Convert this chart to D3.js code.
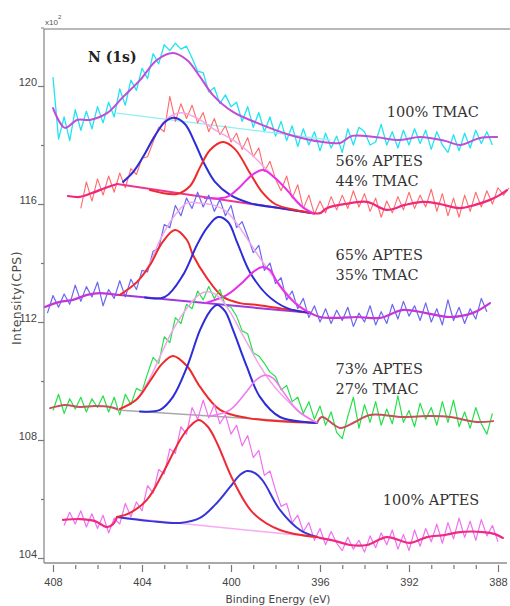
<!DOCTYPE html>
<html><head><meta charset="utf-8">
<script src="https://cdn.jsdelivr.net/npm/d3@7"></script>
<style>body{margin:0;background:#fff}svg{display:block}</style>
</head><body>
<svg id="c" width="510" height="606"></svg>
<script>
// ---------- DATA ----------
const xTicks = [408,404,400,396,392,388];
const xMinorTicks = [407,406,405,403,402,401,399,398,397,395,394,393,391,390,389];
const yTicks = [120,116,112,108,104];
const yMinorTicks = [118,114,110,106];

const energy = [408.25,408,407.75,407.5,407.25,407,406.75,406.5,406.25,406,405.75,405.5,405.25,405,404.75,404.5,404.25,404,403.75,403.5,403.25,403,402.75,402.5,402.25,402,401.75,401.5,401.25,401,400.75,400.5,400.25,400,399.75,399.5,399.25,399,398.75,398.5,398.25,398,397.75,397.5,397.25,397,396.75,396.5,396.25,396,395.75,395.5,395.25,395,394.75,394.5,394.25,394,393.75,393.5,393.25,393,392.75,392.5,392.25,392,391.75,391.5,391.25,391,390.75,390.5,390.25,390,389.75,389.5,389.25,389,388.75,388.5,388.25,388,387.75,387.5];

const rawTMAC100 = [null,
 120.30,118.2,118.95,118.15,119.2,118.5,119.15,118.55,119.3,118.75,
 119.45,118.95,119.9,119.35,120.2,119.85,120.6,120.25,121.1,120.75,
 121.4,121.2,121.45,121.25,121.35,120.95,120.5,120.45,119.8,119.95,
 119.4,119.7,119.3,119.45,118.8,119.3,118.6,119.1,118.45,118.95,
 118.3,118.8,118.15,118.65,117.95,118.55,118.0,118.45,117.8,118.4,
 117.9,118.3,117.75,118.55,118.0,118.6,118.45,118.0,118.1,118.7,
 118.0,118.45,117.9,118.5,118.0,118.55,118.05,118.5,117.85,118.45,
 118.0,117.75,118.35,117.8,118.4,117.9,118.5,118.05,118.45,118.0,
 null,null,null];

const rawAPTES56 = [null,null,null,null,null,null,
 115.85,116.75,116.1,116.85,116.3,116.95,116.4,117.05,116.55,117.2,
 117.0,117.55,117.6,118.1,118.6,118.45,119.65,118.8,119.4,118.9,
 119.35,118.75,119.1,118.45,118.9,118.35,118.65,118.1,118.4,117.85,
 118.25,117.6,117.9,117.1,117.45,116.85,116.45,116.95,116.2,116.65,
 115.85,116.3,115.65,116.1,115.7,116.25,115.8,116.3,115.85,116.45,
 115.9,116.35,115.75,116.2,115.55,116.1,115.7,116.25,115.8,116.4,
 115.85,116.3,115.9,116.5,115.75,116.35,115.6,116.2,115.55,116.3,
 115.75,116.4,115.9,116.45,116.0,116.55,116.3,116.55];

const rawAPTES65 = [
 112.3,112.9,112.5,112.95,112.6,113.25,112.7,113.2,112.85,113.35,
 112.55,113.1,112.8,113.4,112.85,113.45,113.1,113.75,113.7,114.4,
 114.5,115.3,115.2,115.95,115.6,116.2,115.85,116.4,115.9,116.3,
 115.75,116.15,115.6,115.95,115.2,115.4,114.9,114.35,114.6,113.75,
 114.0,113.3,113.5,112.75,113.05,112.45,112.8,112.15,112.55,112.0,
 112.45,111.95,112.4,112.05,112.5,111.85,112.3,112.0,112.55,111.9,
 112.35,111.95,112.6,112.1,112.7,112.2,112.55,112.05,112.65,112.0,
 112.45,111.9,112.75,112.05,112.5,111.95,112.45,112.1,112.8,112.35,
 null,null,null,null];

const rawAPTES73 = [null,
 109.0,109.55,108.9,109.4,109.05,109.45,108.95,109.4,109.1,109.5,
 108.95,109.45,108.85,109.55,109.2,109.75,109.65,110.25,110.8,110.6,
 111.5,111.3,112.15,111.95,112.6,112.45,113.05,112.75,113.2,112.8,
 113.1,112.55,112.5,112.2,111.7,111.6,110.95,110.85,110.6,110.3,
 110.15,109.7,109.85,109.3,109.45,108.9,109.3,108.7,109.15,108.5,
 108.95,108.25,108.05,108.8,109.45,108.4,109.2,108.6,109.3,108.5,
 109.05,108.55,109.5,108.6,109.0,108.45,109.25,108.7,109.1,108.5,
 109.3,108.6,109.35,108.45,108.95,108.4,109.1,108.55,108.2,108.9,
 null,null,null];

const rawAPTES100 = [null,null,null,
 105.1,105.55,105.15,105.6,105.05,105.5,105.0,105.45,104.85,105.35,
 105.15,105.85,105.4,105.9,105.6,106.45,106.2,107.0,106.85,107.7,
 107.55,108.45,108.2,109.1,108.7,109.35,108.75,109.2,108.55,108.85,
 108.2,108.5,107.8,108.15,107.4,107.65,106.8,106.95,106.3,105.75,
 105.85,105.2,105.45,104.9,105.2,104.6,105.0,104.45,104.9,104.5,
 104.25,104.7,104.3,104.6,104.2,104.75,104.35,104.85,104.45,104.95,
 104.3,104.8,104.25,104.95,104.4,105.0,104.55,105.15,104.5,105.2,
 104.65,105.35,104.7,105.25,104.6,105.3,104.75,105.1,104.55,
 null,null];

// fitted / smoothed curves: [binding energy, intensity]
const fitTMAC100 = [[408.0,119.25],[407.46,118.58],[406.92,118.85],[406.34,118.85],[405.57,119.08],[404.85,119.63],[404.09,120.20],[403.33,120.88],[402.61,121.12],[401.98,120.88],[401.39,120.31],[400.81,119.69],[399.91,119.12],[398.83,118.75],[397.35,118.34],[395.87,118.10],[395.10,118.07],[394.56,118.31],[393.53,118.27],[392.40,118.17],[391.51,118.27],[390.38,118.14],[389.71,118.0],[388.81,118.24],[388.04,118.27]];
const bgTMAC100 = [[405.12,119.08],[395.55,118.17]];

const smoothL56 = [[407.33,116.27],[406.79,116.24],[406.25,116.37],[405.66,116.54],[405.12,116.68]];
const bg56 = [[405.12,116.68],[396.31,115.69]];
const smoothR56 = [[396.31,115.69],[396.0,115.69],[395.69,115.86],[394.88,116.0],[393.89,116.07],[392.99,115.80],[392.18,115.97],[391.37,116.07],[390.61,116.0],[389.71,115.86],[389.03,115.97],[388.36,116.14],[387.91,116.31],[387.60,116.47]];
const env56 = [[404.85,116.75],[404.09,117.42],[403.42,118.33],[402.97,118.83],[402.52,119.05],[402.07,119.08],[401.39,118.85],[400.72,118.51],[399.91,118.17],[399.15,117.73],[398.38,117.15],[397.80,116.71],[397.35,116.37],[396.90,116.00],[396.31,115.69]];
const peakA56 = [[404.85,116.75],[404.40,117.08],[403.96,117.59],[403.42,118.31],[402.97,118.78],[402.56,118.92],[402.07,118.71],[401.62,118.07],[401.17,117.32],[400.72,116.75],[400.04,116.31],[399.15,116.03],[397.80,115.86],[396.31,115.69]];
const peakB56 = [[403.64,116.47],[402.43,116.34],[401.84,116.61],[401.39,117.25],[400.94,117.83],[400.36,118.10],[399.82,117.86],[399.15,117.05],[398.61,116.41],[398.02,116.00],[397.12,115.80],[396.31,115.69]];
const peakC56 = [[401.17,116.20],[400.18,116.24],[399.60,116.58],[399.06,116.98],[398.56,117.15],[398.02,116.88],[397.48,116.47],[397.03,116.07],[396.67,115.83],[396.31,115.69]];

const smoothL65 = [[408.36,112.51],[407.69,112.68],[407.10,112.75],[406.47,112.92],[405.89,112.98],[405.12,112.92]];
const bg65 = [[405.12,112.92],[396.45,112.31]];
const env65 = [[404.99,112.92],[404.22,113.36],[403.64,114.0],[403.19,114.78],[402.61,115.53],[401.98,116.03],[401.39,116.03],[400.81,115.97],[400.18,115.73],[399.60,115.19],[399.15,114.68],[398.70,114.17],[398.25,113.69],[397.80,113.25],[397.12,112.68],[396.45,112.31]];
const peakA65 = [[404.99,112.92],[404.22,113.36],[403.64,113.93],[403.10,114.68],[402.52,115.12],[401.98,114.78],[401.71,114.27],[401.08,113.49],[400.36,112.85],[399.60,112.64],[398.83,112.58],[396.45,112.31]];
const peakB65 = [[403.87,112.83],[402.97,112.85],[402.16,113.59],[401.53,114.61],[401.08,115.19],[400.58,115.56],[400.13,115.39],[399.73,114.71],[399.15,113.69],[398.38,112.92],[397.48,112.47],[396.45,112.31]];
const peakC65 = [[401.17,112.64],[400.18,112.92],[399.46,113.36],[399.01,113.69],[398.61,113.86],[398.25,113.76],[397.93,113.36],[397.35,112.81],[396.90,112.51],[396.45,112.31]];
const smoothR65 = [[396.45,112.31],[396.0,112.17],[395.10,112.14],[394.34,112.17],[393.30,112.14],[392.27,112.41],[391.28,112.31],[390.16,112.17],[389.12,112.31],[388.36,112.64]];

const smoothL73 = [[408.13,109.08],[407.46,109.19],[406.79,109.12],[406.11,109.15],[405.44,109.12],[405.12,109.05]];
const bg73 = [[405.12,109.02],[396.13,108.58]];
const env73 = [[404.22,109.39],[403.64,110.10],[403.10,110.98],[402.61,111.73],[401.98,112.47],[401.39,112.95],[400.94,113.02],[400.49,112.81],[400.04,112.34],[399.60,111.73],[399.15,111.12],[398.70,110.51],[398.25,110.0],[397.80,109.59],[397.35,109.25],[396.90,108.92],[396.13,108.58]];
const peakA73 = [[404.99,109.05],[404.22,109.39],[403.64,110.0],[403.10,110.58],[402.61,110.85],[401.98,110.51],[401.39,109.80],[400.49,109.02],[399.28,108.75],[396.13,108.58]];
const peakB73 = [[404.09,108.97],[403.19,109.02],[402.61,109.46],[401.98,110.47],[401.39,111.73],[400.94,112.37],[400.63,112.58],[400.27,112.37],[399.91,111.73],[399.28,110.47],[398.70,109.46],[397.80,108.78],[396.13,108.58]];
const peakC73 = [[400.94,108.81],[400.04,109.02],[399.28,109.66],[398.88,110.03],[398.47,110.20],[398.11,110.10],[397.80,109.80],[397.03,109.02],[396.13,108.58]];
const smoothR73 = [[396.13,108.58],[395.91,108.78],[395.10,108.41],[394.43,108.61],[393.75,108.85],[392.27,108.78],[391.06,108.81],[390.16,108.78],[388.94,108.61],[388.22,108.64]];

const smoothL100 = [[407.55,105.29],[406.79,105.32],[406.11,105.25],[405.57,105.05],[405.30,105.15],[405.12,105.39]];
const bg100 = [[405.12,105.39],[396.13,104.71]];
const peakA100 = [[405.12,105.39],[404.54,105.53],[403.78,105.97],[403.06,106.88],[402.29,108.00],[401.84,108.47],[401.44,108.68],[401.03,108.44],[400.63,107.90],[399.91,106.64],[399.01,105.53],[397.80,104.95],[396.13,104.71]];
const peakB100 = [[405.12,105.39],[403.64,105.25],[402.29,105.19],[401.39,105.36],[400.72,105.80],[400.04,106.41],[399.60,106.81],[399.28,106.95],[398.92,106.88],[398.56,106.61],[397.80,105.63],[396.90,104.95],[396.13,104.71]];
const smoothR100 = [[396.13,104.71],[396.0,104.68],[395.33,104.58],[394.65,104.44],[393.89,104.44],[392.99,104.71],[391.96,104.51],[391.19,104.71],[390.38,104.78],[389.71,104.88],[388.67,104.88],[388.13,104.81],[387.78,104.68]];

const sampleLabels = [
  {lines:["100% TMAC"], e:393.0, v:118.95},
  {lines:["56% APTES","44% TMAC"], e:395.3, v:117.3},
  {lines:["65% APTES","35% TMAC"], e:395.3, v:114.1},
  {lines:["73% APTES","27% TMAC"], e:395.3, v:110.25},
  {lines:["100% APTES"], e:393.18, v:105.8}
];

// ---------- DRAWING ----------
const svg = d3.select("#c");
const x = d3.scaleLinear().domain([408,388]).range([53,498]);
const y = d3.scaleLinear().domain([120,104]).range([86,558]);
const axisColor = "#8c8c8c";

function rawPath(arr,color,w){
  const pts = arr.map((v,i)=>[energy[i],v]).filter(p=>p[1]!=null);
  svg.append("path").attr("fill","none").attr("stroke",color).attr("stroke-width",w)
    .attr("stroke-linejoin","round")
    .attr("d", d3.line().x(p=>x(p[0])).y(p=>y(p[1]))(pts));
}
const smooth = d3.line().x(p=>x(p[0])).y(p=>y(p[1])).curve(d3.curveCatmullRom.alpha(0.5));
const straight = d3.line().x(p=>x(p[0])).y(p=>y(p[1]));
function curve(pts,color,w,gen){
  svg.append("path").attr("fill","none").attr("stroke",color).attr("stroke-width",w)
    .attr("stroke-linecap","round").attr("d",(gen||smooth)(pts));
}

// frame
svg.append("line").attr("x1",44).attr("x2",510).attr("y1",29).attr("y2",29).attr("stroke","#a0a0a0").attr("stroke-width",1.5);
svg.append("line").attr("x1",44).attr("x2",44).attr("y1",29).attr("y2",563).attr("stroke",axisColor).attr("stroke-width",1.3);
svg.append("line").attr("x1",44).attr("x2",507).attr("y1",563).attr("y2",563).attr("stroke",axisColor).attr("stroke-width",1.3);

// spectrum 1: 100% TMAC
rawPath(rawTMAC100,"#20e4f2",1.3);
curve(bgTMAC100,"#8ef0f2",1.3,straight);
curve(fitTMAC100,"#c24bd8",2);

// spectrum 2: 56/44
rawPath(rawAPTES56,"#ff6a6a",1.1);
curve(env56,"#f3a8e6",1.5);
curve(bg56,"#ef3590",2,straight);
curve(smoothL56,"#f0287a",2.2);
curve(smoothR56,"#f0287a",2.2);
curve(peakA56,"#2c2cd8",2);
curve(peakB56,"#ee2a2a",2);
curve(peakC56,"#e830e8",2);

// spectrum 3: 65/35
rawPath(rawAPTES65,"#6868f0",1.2);
curve(env65,"#f2a4ea",1.5);
curve(bg65,"#a038e0",2,straight);
curve(smoothL65,"#c535d8",2.2);
curve(smoothR65,"#c535d8",2.2);
curve(peakA65,"#ee2a2a",2);
curve(peakB65,"#2c2cd8",2);
curve(peakC65,"#e830e8",2);

// spectrum 4: 73/27
rawPath(rawAPTES73,"#26e04a",1.2);
curve(bg73,"#a8a8a8",1.5,straight);
curve(env73,"#f2a4ea",1.5);
curve(smoothL73,"#c8505a",2);
curve(smoothR73,"#c8505a",2);
curve(peakA73,"#ee2a2a",2);
curve(peakB73,"#2c2cd8",2);
curve(peakC73,"#f07af0",1.6);

// spectrum 5: 100% APTES
rawPath(rawAPTES100,"#f070f0",1.2);
curve(bg100,"#f8aaf2",1.5,straight);
curve(smoothL100,"#f02a80",2.2);
curve(smoothR100,"#f02a80",2.2);
curve(peakB100,"#3535d8",2);
curve(peakA100,"#ee2a3a",2);

// x axis
const tickFont = "'Liberation Sans Narrow','Arial Narrow','Liberation Sans',sans-serif";
const gx = svg.append("g").attr("transform","translate(0,563)");
gx.call(d3.axisBottom(x).tickValues(xTicks).tickFormat(d3.format("d")).tickSize(9).tickPadding(6));
const gxm = svg.append("g").attr("transform","translate(0,563)");
gxm.call(d3.axisBottom(x).tickValues(xMinorTicks).tickFormat("").tickSize(6));
[gx,gxm].forEach(g=>{g.select(".domain").remove();g.selectAll("line").attr("y1",2).attr("stroke","#777").attr("stroke-width",1.2);});
gx.selectAll("text").attr("fill","#444").style("font-family",tickFont).style("font-size","11px");

// y axis
const gy = svg.append("g").attr("transform","translate(44,0)");
gy.call(d3.axisLeft(y).tickValues(yTicks).tickFormat(d3.format("d")).tickSize(6).tickPadding(1));
const gym = svg.append("g").attr("transform","translate(44,0)");
gym.call(d3.axisLeft(y).tickValues(yMinorTicks).tickFormat("").tickSize(3));
[gy,gym].forEach(g=>{g.select(".domain").remove();g.selectAll("line").attr("stroke","#777").attr("stroke-width",1.2);});
gy.selectAll("text").attr("dy","-0.02em").attr("fill","#444").style("font-family",tickFont).style("font-size","11px");

// top-left multiplier
svg.append("line").attr("x1",41).attr("x2",44).attr("y1",28).attr("y2",28).attr("stroke","#777");
svg.append("text").attr("x",45).attr("y",25).attr("fill","#555").style("font-family","'Liberation Sans',sans-serif").style("font-size","8px").text("x10");
svg.append("text").attr("x",58).attr("y",19).attr("fill","#555").style("font-family","'Liberation Sans',sans-serif").style("font-size","6px").text("2");

// axis titles
svg.append("text").attr("transform","translate(21,298) rotate(-90)").attr("text-anchor","middle")
  .attr("fill","#4a4a4a").style("font-family","'DejaVu Sans',sans-serif").style("font-size","12.5px")
  .style("letter-spacing","0.4px").text("Intensity(CPS)");
svg.append("text").attr("x",278).attr("y",603).attr("text-anchor","middle")
  .attr("fill","#444").style("font-family","'DejaVu Sans',sans-serif").style("font-size","10.5px").text("Binding Energy (eV)");

// title
svg.append("text").attr("x",88).attr("y",62).attr("fill","#222")
  .style("font-family","'DejaVu Serif',serif").style("font-weight","bold").style("font-size","14px").text("N (1s)");

// sample labels
sampleLabels.forEach(s=>{
  s.lines.forEach((t,k)=>{
    svg.append("text").attr("x",x(s.e)).attr("y",y(s.v)+k*20).attr("fill","#333")
      .style("font-family","'DejaVu Serif',serif").style("font-size","14.5px").text(t);
  });
});
</script>
</body></html>
